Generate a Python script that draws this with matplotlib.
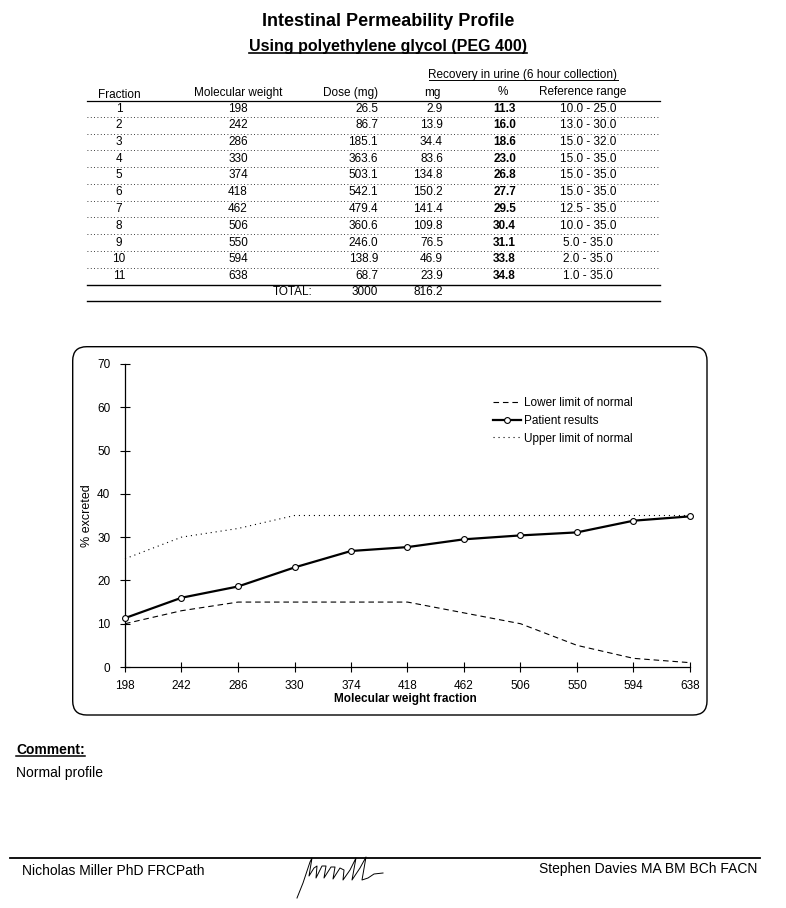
import matplotlib
matplotlib.use("Agg")
import matplotlib.pyplot as plt
from matplotlib.patches import FancyBboxPatch
from matplotlib.lines import Line2D

plt.rcParams['font.family'] = ['Liberation Sans', 'DejaVu Sans']

# ---------------- data ----------------
fractions = [1, 2, 3, 4, 5, 6, 7, 8, 9, 10, 11]
mol_weights = [198, 242, 286, 330, 374, 418, 462, 506, 550, 594, 638]
doses = ["26.5", "86.7", "185.1", "363.6", "503.1", "542.1", "479.4", "360.6", "246.0", "138.9", "68.7"]
recovery_mg = ["2.9", "13.9", "34.4", "83.6", "134.8", "150.2", "141.4", "109.8", "76.5", "46.9", "23.9"]
recovery_pct = [11.3, 16.0, 18.6, 23.0, 26.8, 27.7, 29.5, 30.4, 31.1, 33.8, 34.8]
ref_low = [10.0, 13.0, 15.0, 15.0, 15.0, 15.0, 12.5, 10.0, 5.0, 2.0, 1.0]
ref_high = [25.0, 30.0, 32.0, 35.0, 35.0, 35.0, 35.0, 35.0, 35.0, 35.0, 35.0]
total_dose = "3000"
total_mg = "816.2"
y_ticks = [0, 10, 20, 30, 40, 50, 60, 70]

W, H = 786, 908
fig = plt.figure(figsize=(W / 100, H / 100), dpi=100)
fig.patch.set_facecolor("white")
T = fig.dpi_scale_trans


def P(x, y):
    """page pixel (from top-left) -> inches"""
    return x / 100.0, (H - y) / 100.0


def txt(x, y, s, size=8, ha="left", va="center", weight="normal", **kw):
    X, Y = P(x, y)
    return fig.text(X, Y, s, transform=T, fontsize=size, ha=ha, va=va,
                    fontweight=weight, **kw)


def hline(x0, x1, y, lw=0.8, ls="-", color="black"):
    X0, Y = P(x0, y)
    X1, _ = P(x1, y)
    fig.add_artist(Line2D([X0, X1], [Y, Y], transform=T, lw=lw, ls=ls, color=color))


# ---------------- titles ----------------
txt(388, 22, "Intestinal Permeability Profile", size=13, ha="center", weight="bold")
sub = txt(388, 46, "Using polyethylene glycol (PEG 400)", size=11.5, ha="center", weight="bold")

# ---------------- table ----------------
tsize = 8.5
rec = txt(523, 75, "Recovery in urine (6 hour collection)", size=tsize, ha="center")
txt(119, 95, "Fraction", size=tsize, ha="center")
txt(238, 93, "Molecular weight", size=tsize, ha="center")
txt(378, 92.5, "Dose (mg)", size=tsize, ha="right")
txt(432, 92.5, "mg", size=tsize, ha="center")
txt(503, 91.5, "%", size=tsize, ha="center")
txt(583, 91.5, "Reference range", size=tsize, ha="center")
hline(87, 660, 101, lw=0.9)

row0, dy = 108.5, 16.75
for i in range(len(fractions)):
    y = row0 + i * dy
    txt(119, y, str(fractions[i]), size=tsize, ha="center")
    txt(238, y, str(mol_weights[i]), size=tsize, ha="center")
    txt(378, y, doses[i], size=tsize, ha="right")
    txt(443, y, recovery_mg[i], size=tsize, ha="right")
    txt(516, y, f"{recovery_pct[i]:.1f}", size=tsize, ha="right", weight="bold")
    txt(588, y, f"{ref_low[i]:.1f} - {ref_high[i]:.1f}", size=tsize, ha="center")
    if i < len(fractions) - 1:
        hline(87, 660, y + dy / 2, lw=0.6, ls=(0, (1, 3)))
hline(87, 660, 284.5, lw=1.0)
txt(313, 292, "TOTAL:", size=tsize, ha="right")
txt(378, 292, total_dose, size=tsize, ha="right")
txt(443, 292, total_mg, size=tsize, ha="right")
hline(87, 660, 300.5, lw=1.0)

# ---------------- chart frame ----------------
bx0, by0 = P(72.7, 715)
bx1, by1 = P(707, 346.7)
frame = FancyBboxPatch((bx0, by0), bx1 - bx0, by1 - by0,
                       boxstyle="round,pad=0,rounding_size=0.14",
                       transform=T, fill=False, lw=1.0, ec="black")
fig.add_artist(frame)

# ---------------- chart ----------------
ax = fig.add_axes([125 / W, 1 - 667 / H, 565 / W, 303 / H])
ax.set_facecolor("none")
ax.plot(mol_weights, ref_low, color="black", lw=0.8, ls=(0, (5, 3.5)),
        label="Lower limit of normal", clip_on=False)
ax.plot(mol_weights, recovery_pct, color="black", lw=1.6, marker="o", ms=4.2,
        mfc="white", mec="black", mew=0.8, label="Patient results", clip_on=False,
        zorder=5)
ax.plot(mol_weights, ref_high, color="black", lw=0.8, ls=(0, (1, 3.5)),
        label="Upper limit of normal", clip_on=False)

ax.set_xlim(mol_weights[0], mol_weights[-1])
ax.set_ylim(0, 70)
ax.set_xticks(mol_weights)
ax.set_xticklabels([str(m) for m in mol_weights])
ax.set_yticks(y_ticks)
for s in ["top", "right"]:
    ax.spines[s].set_visible(False)
for s in ["left", "bottom"]:
    ax.spines[s].set_linewidth(0.9)
ax.tick_params(axis="both", direction="inout", length=7, width=0.8, labelsize=8.5)
ax.tick_params(axis="x", pad=6)
ax.tick_params(axis="y", pad=7)
ax.set_xlabel("Molecular weight fraction", fontsize=8.5, fontweight="bold")
ax.xaxis.set_label_coords(0.497, (667 - 693) / 303)
ax.set_ylabel("% excreted", fontsize=9)
ax.yaxis.set_label_coords((93 - 125) / 565, 0.5)

lx, ly = P(493, 397.5)
leg = ax.legend(loc="upper left", bbox_to_anchor=(lx, ly), bbox_transform=T,
                frameon=False, fontsize=8.5, borderpad=0, borderaxespad=0,
                handlelength=2.35, handletextpad=0.25, labelspacing=0.47,
                numpoints=1)

# ---------------- comment / signatures ----------------
com = txt(16, 750, "Comment:", size=10, weight="bold")
txt(16, 773, "Normal profile", size=10)
hline(10, 760, 858, lw=1.3)
txt(22, 871, "Nicholas Miller PhD FRCPath", size=10)
txt(757, 869, "Stephen Davies MA BM BCh FACN", size=10, ha="right")

# signature scribble (decoration)
sig = [(297, 898), (303, 883), (310, 862), (312, 858), (309, 876), (314, 868),
       (317, 866), (316, 878), (322, 866), (326, 866), (324, 878), (331, 867),
       (335, 867), (333, 879), (340, 868), (344, 870), (343, 880), (350, 870),
       (356, 858), (352, 880), (360, 868), (366, 857), (362, 880), (368, 878),
       (374, 874), (383, 873)]
sx = [P(a, b)[0] for a, b in sig]
sy = [P(a, b)[1] for a, b in sig]
fig.add_artist(Line2D(sx, sy, transform=T, lw=0.7, color="black",
                      solid_joinstyle="round"))

# ---------------- underlines from text extents ----------------
fig.canvas.draw()
r = fig.canvas.get_renderer()
for t, off, lw in [(sub, 1.0, 1.2), (com, 1.0, 1.1), (rec, 1.0, 0.7)]:
    bb = t.get_window_extent(r)
    yb = bb.y0 + off
    fig.add_artist(Line2D([bb.x0 / 100, bb.x1 / 100], [yb / 100, yb / 100],
                          transform=T, lw=lw, color="black"))

fig.savefig("out.png", dpi=100, facecolor="white")
